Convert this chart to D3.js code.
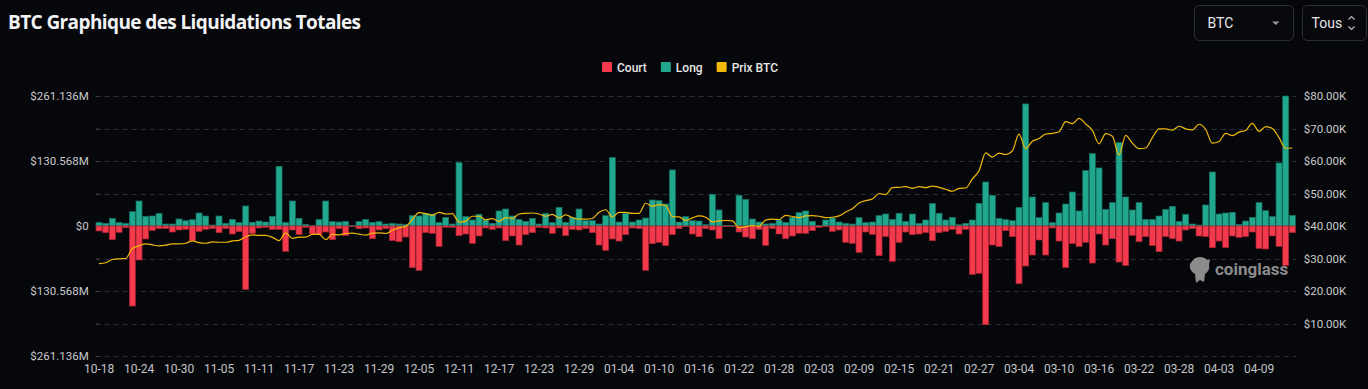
<!DOCTYPE html>
<html>
<head>
<meta charset="utf-8">
<script src="https://cdn.jsdelivr.net/npm/d3@7/dist/d3.min.js"></script>
<style>
    body { margin: 0; background: #06070b; overflow: hidden; }
    svg { display: block; font-family: Roboto, "Noto Sans", sans-serif; }
</style>
</head>
<body>
<svg id="chart" width="1368" height="389"></svg>
<script>
// daily values, 2023-10-18 .. 2024-04-14, in $M (liquidations) and $K (price)
var startDay = "2023-10-18";

var longVals = [
    7.4, 5.4, 15.4, 6.7, 5.4, 28.8, 50.2, 19.4, 20.1, 25.5,
    4.0, 4.0, 14.1, 10.7, 12.7, 26.1, 20.1, 2.0, 20.1, 5.4,
    13.4, 6.7, 40.2, 7.4, 10.0, 8.0, 19.4, 119.9, 7.4, 50.2,
    15.4, 3.4, 0.7, 13.4, 50.2, 8.7, 8.0, 9.4, 1.3, 8.7,
    13.4, 7.4, 8.7, 4.0, 5.4, 4.0, 3.4, 20.8, 20.1, 25.5,
    24.1, 7.4, 17.4, 4.0, 127.3, 18.8, 12.1, 23.5, 12.1, 5.4,
    30.2, 34.2, 20.1, 13.4, 9.4, 15.4, 4.0, 25.5, 6.7, 37.5,
    7.4, 16.8, 34.2, 10.7, 10.7, 4.0, 20.8, 137.3, 8.0, 25.5,
    8.0, 12.1, 16.1, 52.3, 50.9, 44.2, 112.6, 8.0, 18.8, 10.7,
    10.0, 2.7, 63.7, 32.2, 1.3, 1.3, 61.6, 53.6, 14.1, 8.0,
    4.0, 5.4, 12.1, 7.4, 16.8, 26.8, 30.2, 9.4, 1.3, 12.1,
    16.1, 8.0, 5.4, 4.0, 16.8, 6.7, 8.0, 20.8, 24.1, 13.4,
    25.5, 9.4, 24.1, 5.4, 12.1, 44.9, 25.5, 12.1, 17.4, 2.7,
    5.4, 12.1, 45.6, 88.4, 61.6, 15.4, 12.7, 10.7, 37.5, 245.2,
    58.3, 16.8, 46.9, 6.7, 26.1, 44.2, 68.3, 30.2, 111.2, 145.4,
    116.6, 33.5, 46.9, 167.5, 58.3, 32.2, 46.9, 13.4, 13.4, 20.1,
    33.5, 39.5, 9.4, 23.5, 4.0, 2.0, 42.2, 108.5, 24.1, 26.1,
    27.5, 3.4, 10.0, 17.4, 46.9, 30.8, 18.8, 126.6, 261.1, 21.4
];

var shortVals = [
    10.0, 13.4, 27.5, 12.7, 3.4, 160.8, 68.3, 26.1, 8.7, 5.4,
    5.4, 12.1, 8.0, 6.7, 29.5, 10.7, 6.7, 5.4, 13.4, 5.4,
    16.1, 11.4, 127.3, 14.7, 4.0, 2.7, 6.7, 6.7, 50.9, 8.0,
    17.4, 2.7, 16.1, 17.4, 12.1, 27.5, 5.4, 19.4, 1.3, 5.4,
    4.0, 25.5, 8.0, 5.4, 29.5, 31.5, 22.1, 83.7, 89.1, 13.4,
    14.7, 40.9, 2.7, 2.7, 19.4, 16.1, 34.8, 20.1, 4.0, 6.7,
    4.0, 29.5, 20.1, 38.2, 17.4, 13.4, 2.7, 4.0, 14.7, 4.0,
    19.4, 6.7, 8.0, 5.4, 13.4, 38.2, 48.9, 26.1, 30.2, 17.4,
    4.0, 5.4, 89.1, 35.5, 32.8, 39.5, 17.4, 5.4, 1.3, 16.1,
    21.4, 5.4, 8.0, 25.5, 1.3, 1.3, 12.1, 22.1, 25.5, 6.7,
    38.9, 5.4, 16.1, 25.5, 20.1, 14.7, 14.7, 9.4, 2.7, 1.3,
    10.7, 8.0, 32.8, 34.8, 52.9, 12.1, 16.8, 59.6, 21.4, 71.0,
    32.8, 12.1, 17.4, 16.1, 13.4, 29.5, 13.4, 10.7, 6.7, 16.1,
    6.7, 97.2, 95.1, 198.3, 38.2, 41.5, 9.4, 21.4, 115.9, 80.4,
    58.3, 28.1, 58.3, 4.0, 30.2, 83.7, 35.5, 40.9, 32.8, 74.4,
    16.1, 38.2, 25.5, 72.4, 79.1, 18.8, 31.5, 21.4, 39.5, 51.6,
    21.4, 25.5, 30.2, 8.0, 5.4, 20.1, 21.4, 43.6, 30.2, 43.6,
    20.1, 22.8, 21.4, 12.1, 44.9, 46.2, 20.1, 40.9, 79.1, 13.4
];

var priceVals = [
    28.4, 28.7, 29.7, 29.9, 30.0, 33.1, 33.9, 34.5, 34.2, 33.9,
    34.1, 34.5, 34.5, 34.7, 35.4, 34.9, 34.7, 35.1, 35.0, 35.0,
    35.4, 35.6, 36.7, 37.3, 37.1, 37.1, 36.5, 35.5, 37.9, 36.2,
    36.6, 36.6, 37.4, 37.5, 35.8, 37.4, 37.3, 37.7, 37.8, 37.5,
    37.2, 37.8, 37.9, 37.7, 38.7, 39.5, 39.9, 42.0, 44.1, 43.8,
    43.3, 44.2, 43.7, 43.8, 41.2, 41.5, 43.0, 43.0, 41.9, 42.3,
    41.4, 42.6, 42.3, 43.7, 43.9, 44.0, 43.7, 43.0, 43.6, 42.5,
    43.4, 42.6, 42.1, 42.1, 42.3, 44.2, 45.0, 42.8, 44.2, 44.2,
    43.9, 43.9, 47.0, 46.1, 46.6, 46.3, 42.9, 42.8, 41.7, 42.5,
    43.1, 42.7, 41.3, 41.6, 41.7, 41.6, 39.5, 39.8, 40.1, 39.9,
    41.8, 42.1, 42.0, 43.3, 42.9, 42.6, 43.1, 43.2, 43.0, 42.6,
    42.7, 43.1, 44.3, 45.3, 47.1, 47.8, 48.3, 50.0, 49.7, 51.8,
    51.9, 52.1, 51.6, 52.1, 51.8, 52.3, 51.9, 51.3, 50.7, 51.6,
    51.7, 54.5, 57.0, 62.5, 61.2, 62.4, 62.0, 63.1, 68.3, 63.8,
    66.1, 66.9, 68.3, 68.5, 69.0, 72.1, 71.5, 73.1, 71.4, 69.4,
    65.3, 68.4, 67.6, 61.9, 67.9, 65.5, 63.8, 64.0, 67.2, 69.9,
    69.9, 69.5, 70.7, 69.9, 69.6, 71.3, 69.7, 65.5, 66.0, 68.5,
    67.8, 68.9, 69.4, 71.6, 69.1, 70.6, 70.0, 67.2, 63.9, 64.0
];

var liqMax = 261.136;
var priceTicks = [10, 20, 30, 40, 50, 60, 70, 80];
var legendItems = [
    {name: "Court", color: "#f23a4c"},
    {name: "Long", color: "#22a78f"},
    {name: "Prix BTC", color: "#f0b90b"}
];

var red = "#f23a4c", teal = "#22a78f", gold = "#f0b90b";

var svg = d3.select("#chart");
var W = 1368, H = 389;
var plot = {left: 95.7, right: 1295.7, top: 96, bottom: 356};

var start = d3.utcParse("%Y-%m-%d")(startDay);
var days = d3.utcDay.range(start, d3.utcDay.offset(start, longVals.length));
var fmtDay = d3.utcFormat("%m-%d");

var rows = days.map(function (d, i) {
    return {day: d, key: fmtDay(d), long: longVals[i], short: shortVals[i], price: priceVals[i]};
});

var x = d3.scaleBand()
    .domain(rows.map(function (d) { return d.key; }))
    .range([plot.left, plot.right])
    .paddingInner(0.1)
    .paddingOuter(0.05);

var yL = d3.scaleLinear().domain([-liqMax, liqMax]).range([plot.bottom, plot.top]);
var yR = d3.scaleLinear().domain([0, 80]).range([plot.bottom, plot.top]);

svg.append("rect").attr("width", W).attr("height", H).attr("fill", "#06070b");

// header
svg.append("text")
    .attr("x", 8).attr("y", 29)
    .attr("fill", "#f2f3f5")
    .attr("font-family", "'Open Sans', sans-serif")
    .attr("font-weight", 700)
    .attr("font-size", 19)
    .attr("letter-spacing", -0.6)
    .text("BTC Graphique des Liquidations Totales");

var box1 = svg.append("g").attr("transform", "translate(1194.5,5.5)");
box1.append("rect").attr("width", 99).attr("height", 35).attr("rx", 5)
    .attr("fill", "#07080c").attr("stroke", "#2c2f36");
box1.append("text").attr("x", 13).attr("y", 22.5).attr("fill", "#e6e6e6")
    .attr("font-size", 14).text("BTC");
box1.append("path").attr("d", "M77.5,16 L85,16 L81.25,19.5 Z").attr("fill", "#9a9a9a");

var box2 = svg.append("g").attr("transform", "translate(1302.5,5.5)");
box2.append("rect").attr("width", 64).attr("height", 35).attr("rx", 5)
    .attr("fill", "#07080c").attr("stroke", "#2c2f36");
box2.append("text").attr("x", 9).attr("y", 22.5).attr("fill", "#e6e6e6")
    .attr("font-size", 14).text("Tous");
box2.append("path").attr("d", "M46,14 L49,11 L52,14 M46,21 L49,24 L52,21")
    .attr("fill", "none").attr("stroke", "#bbb").attr("stroke-width", 1.2);

// legend
var legend = svg.append("g").attr("transform", "translate(602,62)");
var lx = 0;
legendItems.forEach(function (it) {
    var g = legend.append("g").attr("transform", "translate(" + lx + ",0)");
    g.append("rect").attr("width", 10).attr("height", 10).attr("rx", 1).attr("fill", it.color);
    var t = g.append("text").attr("x", 15).attr("y", 9.5).attr("fill", "#e8e8e8")
        .attr("font-size", 12).attr("font-weight", 500).text(it.name);
    lx += 15 + t.node().getComputedTextLength() + 14;
});

// grid
var grid = svg.append("g");
grid.selectAll("line").data(d3.range(0, 81, 10)).enter().append("line")
    .attr("x1", plot.left).attr("x2", plot.right + 1)
    .attr("y1", function (d) { return Math.round(yR(d)) + 0.5; })
    .attr("y2", function (d) { return Math.round(yR(d)) + 0.5; })
    .attr("stroke", "#2d2f36")
    .attr("stroke-dasharray", "5,4");

// left axis
var leftVals = d3.range(0, 81, 10).map(function (d) { return yL.invert(yR(d)); });
var fmtM = d3.format(".3f");
var axL = svg.append("g").attr("transform", "translate(" + (plot.left + 4) + ",0)")
    .call(d3.axisLeft(yL).tickValues(leftVals).tickSize(4).tickPadding(7)
        .tickFormat(function (d, i) {
            if (i % 2) return "";
            var v = Math.abs(d);
            return v < 0.001 ? "$0" : "$" + fmtM(v) + "M";
        }));
axL.select(".domain").remove();
axL.selectAll("line").attr("stroke", "#3a3c44");
axL.selectAll("text").attr("fill", "#c9c9cc").attr("font-size", 11.5)
    .attr("font-family", "Roboto, sans-serif");

// right axis
var axR = svg.append("g").attr("transform", "translate(" + plot.right + ",0)")
    .call(d3.axisRight(yR).tickValues(priceTicks).tickSize(0).tickPadding(8)
        .tickFormat(function (d) { return "$" + d.toFixed(2) + "K"; }));
axR.select(".domain").remove();
axR.selectAll("text").attr("fill", "#c9c9cc").attr("font-size", 11.5)
    .attr("font-family", "Roboto, sans-serif");

// bars
var bars = svg.append("g");
bars.selectAll("rect.long").data(rows).enter().append("rect")
    .attr("class", "long")
    .attr("x", function (d) { return x(d.key); })
    .attr("width", x.bandwidth())
    .attr("y", function (d) { return yL(d.long); })
    .attr("height", function (d) { return yL(0) - yL(d.long); })
    .attr("fill", teal).attr("stroke", "#146e5f").attr("stroke-width", 0.7);
bars.selectAll("rect.short").data(rows).enter().append("rect")
    .attr("class", "short")
    .attr("x", function (d) { return x(d.key); })
    .attr("width", x.bandwidth())
    .attr("y", yL(0))
    .attr("height", function (d) { return yL(-d.short) - yL(0); })
    .attr("fill", red).attr("stroke", "#a3222f").attr("stroke-width", 0.7);

// price line
var line = d3.line()
    .x(function (d) { return x(d.key) + x.bandwidth() / 2; })
    .y(function (d) { return yR(d.price); })
    .curve(d3.curveMonotoneX);
svg.append("path").datum(rows)
    .attr("d", line)
    .attr("fill", "none")
    .attr("stroke", gold)
    .attr("stroke-width", 1.2);

// x axis
var axX = svg.append("g").attr("transform", "translate(0," + plot.bottom + ")")
    .call(d3.axisBottom(x)
        .tickValues(rows.filter(function (d, i) { return i % 6 === 0; }).map(function (d) { return d.key; }))
        .tickSize(0).tickPadding(8));
axX.select(".domain").remove();
axX.selectAll("text").attr("fill", "#c4c4c8").attr("font-size", 12)
    .attr("font-family", "Roboto, sans-serif");

// watermark
var wm = svg.append("g").attr("transform", "translate(1188,256)").attr("opacity", 0.75);
wm.append("path")
    .attr("d", "M5,4 C8,0 16,0 19,4 L22,3 L21,9 C22,13 20,16 17,18 L16,26 L12,24 L8,27 L7,18 C3,16 1,12 2,8 Z")
    .attr("fill", "#b8b8b8");
wm.append("text").attr("x", 27).attr("y", 19).attr("fill", "#b8b8b8")
    .attr("font-size", 17).attr("font-weight", 700).attr("font-family", "Roboto, sans-serif")
    .text("coinglass");
</script>
</body>
</html>
